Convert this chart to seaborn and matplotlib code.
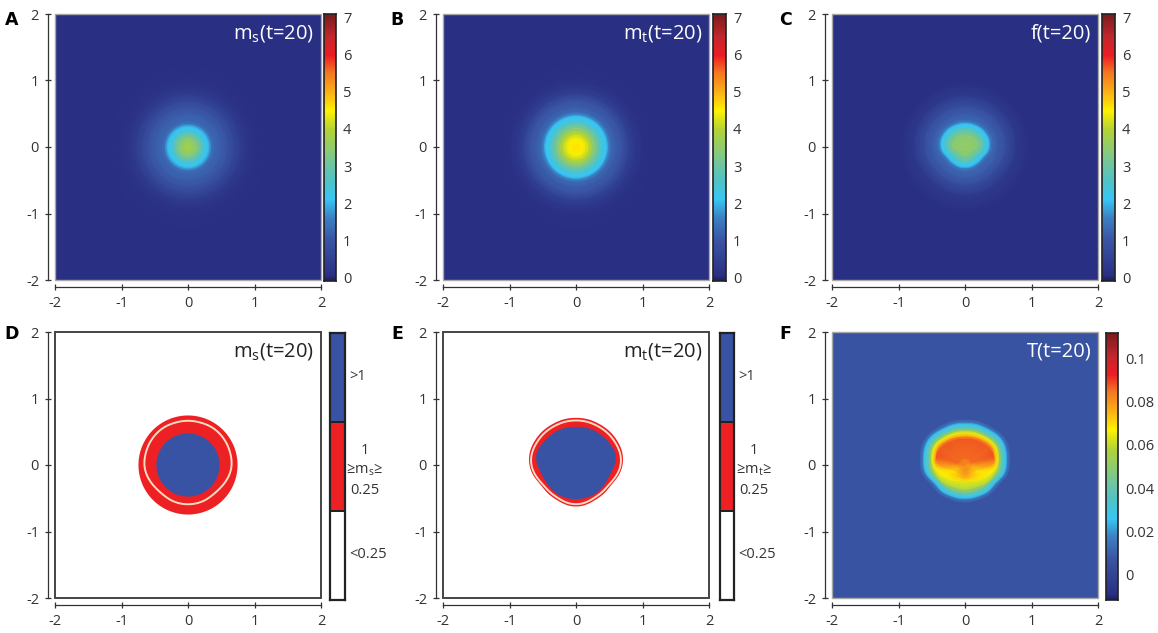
import numpy as np
import matplotlib
matplotlib.use('Agg')
import matplotlib.pyplot as plt
from matplotlib.colors import LinearSegmentedColormap, ListedColormap
from matplotlib.patches import PathPatch, Rectangle
from matplotlib.path import Path
import seaborn as sns

W, H = 1158, 633

# colour scale (value on the 0-7 bar, colour)
scale_values = [-0.1, 0.05, 1.0, 1.55, 2.1, 2.6, 3.0, 4.0, 4.5, 5.0, 5.5, 6.0, 6.5, 7.1]
scale_colors = ['#1f1c5c', '#2a3084', '#3a55a5', '#3b7cc0', '#38c6f4', '#50c3c6', '#6dc5a4',
                '#b3d334', '#fff200', '#fbb017', '#f47a20', '#ed1c24', '#c1272d', '#7a1a1c']

# rays run from straight up (first) to straight down (last), 15 degrees apart,
# the left half of each panel mirrors the right half
# panel A: m_s, round
ms_radii = [0, 0.05, 0.1, 0.15, 0.2, 0.24, 0.27, 0.3, 0.33, 0.36, 0.4, 0.5, 0.6, 0.7, 0.8, 0.9, 1.0, 1.3, 3.0]
ms_values = [3.75, 3.7, 3.55, 3.25, 2.85, 2.45, 2.15, 2.1, 1.8, 1.4, 1.25, 1.12, 0.92, 0.62, 0.36, 0.18, 0.1, 0.05, 0.05]

# panel B: m_t, round
mt_radii = [0, 0.05, 0.1, 0.15, 0.2, 0.25, 0.3, 0.35, 0.4, 0.43, 0.46, 0.49, 0.53, 0.6, 0.7, 0.8, 0.9, 1.0, 1.3, 3.0]
mt_values = [4.6, 4.58, 4.5, 4.35, 4.05, 3.65, 3.2, 2.8, 2.35, 2.15, 2.1, 1.65, 1.28, 1.12, 0.92, 0.5, 0.24, 0.1, 0.05, 0.05]

# panel C: f, radius of each level along each ray
f_levels = [3.7, 3.3, 2.7, 2.15, 2.1, 1.55, 1.25, 1.1, 0.8, 0.3, 0.05, 0.05]
f_radii = [
    [0.0] * 13,
    [.19, .19, .195, .2, .205, .205, .195, .17, .14, .135, .135, .14, .14],
    [.27, .27, .275, .28, .285, .285, .275, .25, .22, .215, .215, .22, .22],
    [.32, .32, .325, .33, .335, .335, .325, .30, .27, .265, .265, .27, .27],
    [.35, .35, .355, .36, .365, .365, .355, .33, .30, .295, .295, .30, .30],
    [.38, .38, .385, .39, .395, .395, .385, .36, .33, .325, .325, .33, .33],
    [.42, .42, .425, .43, .435, .435, .425, .40, .37, .365, .365, .37, .37],
    [.5, .5, .5, .5, .5, .5, .49, .48, .47, .46, .46, .46, .46],
    [.62, .62, .62, .62, .62, .62, .61, .6, .58, .57, .57, .57, .57],
    [.78, .78, .78, .78, .78, .78, .77, .76, .74, .73, .73, .73, .73],
    [1.0] * 13,
    [3.0] * 13,
]

# panel F: T, the inner rings change value from ray to ray
t_center = [.081] * 13
t_ring1 = [.085, .085, .085, .085, .085, .084, .081, .079, .078, .078, .079, .08, .08]
t_ring2 = [.088, .088, .088, .088, .088, .088, .079, .071, .071, .073, .075, .077, .078]
t_ring3 = [.077, .077, .077, .077, .077, .077, .073, .069, .069, .071, .073, .074, .074]
t_outer_levels = [.066, .054, .04, .029, .026, .016, .006, .006]
t_radii = [
    [0.0] * 13,
    [.1] * 13,
    [.39, .40, .41, .43, .45, .45, .40, .28, .19, .17, .16, .16, .16],
    [.44, .445, .46, .48, .49, .47, .45, .36, .28, .24, .21, .21, .21],
    [.485, .49, .50, .52, .53, .51, .48, .43, .37, .32, .28, .25, .25],
    [.52, .525, .53, .55, .56, .535, .51, .48, .45, .42, .39, .38, .38],
    [.555, .56, .565, .585, .595, .57, .55, .525, .475, .455, .44, .43, .43],
    [.60, .605, .61, .63, .64, .615, .595, .565, .51, .50, .49, .48, .48],
    [.62, .625, .63, .65, .66, .635, .615, .585, .53, .52, .51, .50, .50],
    [.645, .65, .655, .675, .685, .66, .64, .61, .555, .545, .535, .525, .525],
    [.695, .70, .705, .725, .735, .71, .69, .66, .605, .595, .585, .575, .575],
    [3.0] * 13,
]

# panels D and E: region outlines along the rays
d_outer = [.745] * 13
d_line = [.665, .665, .67, .67, .665, .66, .655, .635, .605, .585, .585, .59, .59]
d_inner = [.475] * 13
e_outer = [.71, .71, .71, .715, .72, .72, .70, .655, .61, .60, .60, .615, .625]
e_line = [.67, .67, .67, .675, .68, .685, .67, .625, .58, .565, .565, .58, .59]
e_inner = [.575, .58, .585, .59, .605, .615, .58, .535, .52, .52, .52, .515, .515]

field_ticks = [0, 1, 2, 3, 4, 5, 6, 7]
t_ticks = [0, 0.02, 0.04, 0.06, 0.08, 0.1]
t_tick_labels = ['0', '0.02', '0.04', '0.06', '0.08', '0.1']
axis_ticks = [-2, -1, 0, 1, 2]

FIELD_RANGE = (-0.1, 7.1)
T_RANGE = (-0.012, 0.112)
BLUE, RED = '#3953a4', '#ed2024'
DARK = '#333333'

sns.set_theme(style='white')
plt.rcParams['font.family'] = ['Open Sans', 'DejaVu Sans']
plt.rcParams['mathtext.fontset'] = 'custom'
plt.rcParams['mathtext.rm'] = 'Open Sans'
plt.rcParams['axes.unicode_minus'] = False

nodes = [(v - FIELD_RANGE[0]) / (FIELD_RANGE[1] - FIELD_RANGE[0]) for v in scale_values]
jet_like = LinearSegmentedColormap.from_list('jet_like', list(zip(nodes, scale_colors)), N=512)


def box(left, top, right, bottom):
    return [left / W, 1 - bottom / H, (right - left) / W, (bottom - top) / H]


def full_turn(table):
    # rings x rays over the right half, mirrored, then resampled smoothly round the turn
    table = np.atleast_2d(np.asarray(table, dtype=float))
    full = np.hstack([table, table[:, -2:0:-1]])
    n = full.shape[1]
    smooth = np.fft.irfft(np.fft.rfft(full, axis=1), n=n * 4, axis=1) * 4
    return np.hstack([smooth, smooth[:, :1]])


def ray_xy(radii):
    full = full_turn(radii)
    angles = np.radians(np.linspace(0, 360, full.shape[1]))
    return full * np.sin(angles), full * np.cos(angles)


def setup_axes(rect, edge, lw):
    ax = fig.add_axes(box(*rect))
    ax.set_xlim(-2, 2)
    ax.set_ylim(-2, 2)
    ax.set_xticks(axis_ticks)
    ax.set_yticks(axis_ticks)
    ax.tick_params(direction='inout', length=5, width=0.9, color=DARK, labelcolor=DARK,
                   labelsize=10.5, left=True, bottom=True, pad=4)
    for side in ['top', 'right']:
        ax.spines[side].set_visible(False)
    for side in ['left', 'bottom']:
        ax.spines[side].set_position(('outward', 5))
        ax.spines[side].set_linewidth(0.9)
        ax.spines[side].set_color(DARK)
    ax.add_patch(Rectangle((0, 0), 1, 1, transform=ax.transAxes, fill=False, ec=edge, lw=lw,
                           clip_on=False, zorder=5))
    return ax


def draw_field(ax, radii, values, vrange):
    x, y = ray_xy(radii)
    ax.pcolormesh(x, y, full_turn(values), cmap=jet_like, vmin=vrange[0], vmax=vrange[1],
                  shading='gouraud')
    ax.set_xlim(-2, 2)
    ax.set_ylim(-2, 2)


def draw_colorbar(rect, vrange, ticks, labels):
    cax = fig.add_axes(box(*rect))
    n = 256
    column = np.linspace(vrange[1], vrange[0], n).reshape(-1, 1)
    sns.heatmap(column, cmap=jet_like, vmin=vrange[0], vmax=vrange[1], cbar=False,
                xticklabels=False, yticklabels=False, ax=cax)
    cax.set_yticks([(vrange[1] - t) / (vrange[1] - vrange[0]) * n for t in ticks])
    cax.set_yticklabels(labels, rotation=0)
    cax.yaxis.tick_right()
    cax.tick_params(axis='y', direction='in', length=2, width=1.1, color='#111111', left=True,
                    right=True, labelsize=10.5, labelcolor=DARK, pad=5)
    for spine in cax.spines.values():
        spine.set_visible(True)
        spine.set_color('#222222')
        spine.set_linewidth(1.2)


def outline(radii):
    x, y = ray_xy(radii)
    return Path(np.column_stack([x[0], y[0]]), closed=True)


def draw_regions(ax, outer, line, inner):
    ax.add_patch(PathPatch(outline(outer), fc=RED, ec='none'))
    ax.add_patch(PathPatch(outline(inner), fc=BLUE, ec='none'))
    ax.add_patch(PathPatch(outline(line), fc='none', ec='#fbdcc0', lw=1.4))


def draw_region_bar(rect, name):
    cax = fig.add_axes(box(*rect))
    sns.heatmap([[2], [1], [0]], cmap=ListedColormap(['white', RED, BLUE]), cbar=False,
                xticklabels=False, yticklabels=False, linewidths=1.2, linecolor='#222222', ax=cax)
    for spine in cax.spines.values():
        spine.set_visible(True)
        spine.set_color('#222222')
        spine.set_linewidth(1.6)
    left, top, right, bottom = rect
    px_text(right + 4, top + 44, '>1', ha='left')
    px_text(right + 20, top + 117, '1', ha='center')
    px_text(right + 20, top + 137, name, ha='center')
    px_text(right + 20, top + 157, '0.25', ha='center')
    px_text(right + 4, top + 222, '<0.25', ha='left')


def px_text(x, y, s, **kw):
    kw.setdefault('va', 'center')
    kw.setdefault('fontsize', 10.5)
    kw.setdefault('color', DARK)
    fig.text(x / W, 1 - y / H, s, **kw)


def title(ax, s, color='white'):
    ax.text(0.975, 0.925, s, transform=ax.transAxes, ha='right', va='center', color=color,
            fontsize=14.5, zorder=6)


def column_table(values, n_rays=13):
    return np.tile(np.array(values)[:, None], (1, n_rays))


fig = plt.figure(figsize=(W / 100, H / 100), dpi=100)
fig.patch.set_facecolor('white')

top_row = (14, 280)
low_row = (332, 598)
col_x = [(55, 321), (443, 709), (832, 1098)]
field_labels = [str(t) for t in field_ticks]

# top row
ax_a = setup_axes((col_x[0][0], top_row[0], col_x[0][1], top_row[1]), '#a8a8a8', 1.0)
draw_field(ax_a, column_table(ms_radii), column_table(ms_values), FIELD_RANGE)
title(ax_a, r'm$_{\mathrm{s}}$(t=20)')
draw_colorbar((324, 14, 336, 281), FIELD_RANGE, field_ticks, field_labels)

ax_b = setup_axes((col_x[1][0], top_row[0], col_x[1][1], top_row[1]), '#a8a8a8', 1.0)
draw_field(ax_b, column_table(mt_radii), column_table(mt_values), FIELD_RANGE)
title(ax_b, r'm$_{\mathrm{t}}$(t=20)')
draw_colorbar((713, 14, 726, 281), FIELD_RANGE, field_ticks, field_labels)

ax_c = setup_axes((col_x[2][0], top_row[0], col_x[2][1], top_row[1]), '#a8a8a8', 1.0)
draw_field(ax_c, f_radii, column_table(f_levels), FIELD_RANGE)
title(ax_c, 'f(t=20)')
draw_colorbar((1102, 14, 1115, 281), FIELD_RANGE, field_ticks, field_labels)

# bottom row
ax_d = setup_axes((col_x[0][0], low_row[0], col_x[0][1], low_row[1]), '#444444', 1.4)
draw_regions(ax_d, d_outer, d_line, d_inner)
title(ax_d, r'm$_{\mathrm{s}}$(t=20)', color='#222222')
draw_region_bar((330, 333, 345, 600), r'≥m$_{\mathrm{s}}$≥')

ax_e = setup_axes((col_x[1][0], low_row[0], col_x[1][1], low_row[1]), '#444444', 1.4)
draw_regions(ax_e, e_outer, e_line, e_inner)
title(ax_e, r'm$_{\mathrm{t}}$(t=20)', color='#222222')
draw_region_bar((720, 333, 734, 600), r'≥m$_{\mathrm{t}}$≥')

ax_f = setup_axes((col_x[2][0], low_row[0], col_x[2][1], low_row[1]), '#a8a8a8', 1.0)
t_values = np.vstack([t_center, t_ring1, t_ring2, t_ring3] +
                     [[lev] * 13 for lev in t_outer_levels])
draw_field(ax_f, t_radii, t_values, T_RANGE)
title(ax_f, 'T(t=20)')
draw_colorbar((1106, 333, 1118, 600), T_RANGE, t_ticks, t_tick_labels)

# panel letters
for letter, x, y in [('A', 12, 20), ('B', 397, 20), ('C', 785, 20),
                     ('D', 12, 334), ('E', 397, 334), ('F', 785, 334)]:
    px_text(x, y, letter, ha='center', fontsize=12.5, fontweight='bold', color='black',
            family=['DejaVu Sans'])

fig.savefig('out.png', dpi=100)
